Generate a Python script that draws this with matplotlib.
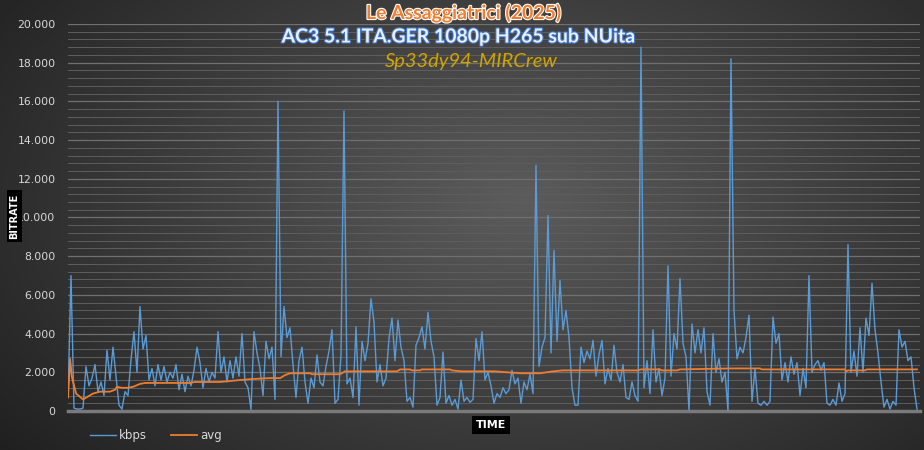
import numpy as np
import matplotlib
matplotlib.use("Agg")
import matplotlib.pyplot as plt
import matplotlib.patheffects as pe
from matplotlib.ticker import MultipleLocator, FuncFormatter

# bitrate samples (kbps) left to right
kbps = [700, 7000, 150, 100, 100, 150, 2300, 1300, 1700, 2400,
        1000, 1500, 800, 3150, 1600, 3300, 1800, 300, 100, 1000,
        800, 2650, 4100, 2000, 5400, 3200, 3900, 1600, 2200, 1300,
        2400, 1600, 2300, 1500, 2000, 1700, 2400, 1100, 1900, 1000,
        1800, 1300, 2100, 3300, 2500, 1200, 2200, 1500, 2000, 1700,
        4100, 2000, 2800, 1500, 2600, 1700, 2800, 1800, 4000, 1500,
        1200, 80, 4100, 3000, 2200, 800, 3600, 2700, 3300, 600,
        16000, 2800, 5400, 3800, 4300, 2400, 700, 2600, 3300, 1500,
        400, 1700, 1200, 2900, 1500, 1300, 2300, 3100, 4200, 400,
        600, 2900, 15500, 1400, 1700, 700, 4350, 300, 3600, 2600,
        3500, 5800, 4600, 1500, 2400, 1300, 1700, 3750, 4800, 2600,
        4700, 3300, 2600, 500, 700, 200, 3400, 3800, 4350, 3200,
        5100, 3600, 2800, 300, 700, 3050, 400, 800, 300, 600,
        100, 1600, 500, 700, 450, 600, 3750, 2600, 4100, 1600,
        2000, 1300, 400, 900, 700, 1200, 900, 1100, 2100, 1400,
        1700, 400, 1500, 1100, 1900, 900, 12700, 2300, 3300, 3800,
        10100, 3000, 8300, 3600, 6750, 4200, 5200, 3800, 1200, 300,
        300, 3300, 2500, 3100, 2700, 3650, 1800, 2900, 3650, 1400,
        2200, 1600, 3400, 2000, 1500, 2400, 700, 600, 1500, 800,
        500, 18800, 1200, 2600, 900, 4200, 1500, 2200, 800, 1700,
        7500, 1800, 4000, 3200, 6850, 3500, 2800, 50, 4500, 3000,
        4200, 3000, 4300, 1000, 300, 4000, 2000, 2700, 1500, 2000,
        0, 18200, 5200, 2700, 3300, 3000, 3800, 4950, 500, 2200,
        400, 300, 500, 300, 500, 4850, 3500, 4000, 1600, 2500,
        1500, 2800, 1900, 2500, 800, 2200, 1200, 7000, 2000, 2400,
        2600, 2100, 2500, 400, 300, 600, 300, 1450, 500, 900,
        8600, 2000, 3100, 1800, 4300, 2000, 4800, 3900, 6600, 4200,
        3000, 1500, 200, 600, 100, 500, 300, 4200, 3300, 3600,
        2600, 2800, 1200, 100]

# running average, sample position / value pairs
avg_t = [0, 0.7, 1.3, 2.7, 5, 6.7, 8.3, 10.7, 14, 15.7, 16.3, 18, 20, 21.7,
         24, 25.7, 40.7, 42.3, 50.7, 57.3, 61.3, 67.3, 70.7, 72.3, 74, 80.7,
         81.3, 90.7, 92.3, 109.7, 110.7, 114, 114.7, 117.3, 118, 127.3, 128,
         131.3, 142.3, 150.7, 157.3, 161.7, 165, 190, 191, 197.3, 198, 203,
         204, 221, 230.7, 231.3, 259, 259.3, 260, 265.7, 266.3, 283]
avg_v = [700, 2700, 1750, 900, 600, 750, 900, 1000, 1000, 1100, 1250, 1200,
         1200, 1250, 1400, 1450, 1450, 1500, 1500, 1600, 1650, 1700, 1700,
         1850, 1950, 1950, 1900, 1900, 2050, 2050, 2150, 2150, 2100, 2100,
         2150, 2150, 2100, 2050, 2050, 1950, 1950, 2050, 2100, 2100, 2150,
         2150, 2100, 2100, 2150, 2200, 2200, 2150, 2150, 2050, 2100, 2100,
         2150, 2150]

title1 = "Le Assaggiatrici (2025)"
title2 = "AC3 5.1 ITA.GER 1080p H265 sub NUita"
title3 = "Sp33dy94-MIRCrew"

W, H = 924, 450
fig = plt.figure(figsize=(W / 100, H / 100), dpi=100)

# dark radial background
bg = fig.add_axes([0, 0, 1, 1], zorder=-5)
yy, xx = np.mgrid[0:H, 0:W]
r = np.sqrt(((xx - 520) / 620.0) ** 2 + ((yy - 200) / 380.0) ** 2)
shade = np.clip(0.36 - 0.22 * r, 0.1, 0.36)
bg.imshow(np.dstack([shade] * 3), aspect="auto", extent=[0, 1, 0, 1])
bg.axis("off")

ax = fig.add_axes([68 / W, 1 - 411 / H, 852 / W, 387 / H])
ax.set_facecolor("none")
x = np.arange(len(kbps))
ax.plot(x, kbps, color="#5b9bd5", lw=1.0, label="kbps", zorder=3)
ax.plot(avg_t, avg_v, color="#ed7d31", lw=1.3, label="avg", zorder=4)

ax.set_xlim(0, len(kbps))
ax.set_ylim(0, 20000)
ax.yaxis.set_major_locator(MultipleLocator(2000))
ax.yaxis.set_minor_locator(MultipleLocator(400))
ax.yaxis.set_major_formatter(FuncFormatter(lambda v, p: f"{int(v):,}".replace(",", ".")))
ax.grid(which="major", axis="y", color="#707070", lw=0.9)
ax.grid(which="minor", axis="y", color="#5e5e5e", lw=0.7)
ax.set_axisbelow(True)
ax.set_xticks([])
ax.tick_params(axis="y", which="both", length=0, colors="#d9d9d9", labelsize=7.8, pad=9)
for s in ["top", "right", "left"]:
    ax.spines[s].set_visible(False)
ax.spines["bottom"].set_color("#7a7a7a")
ax.spines["bottom"].set_linewidth(2.5)

# axis titles in black boxes
fig.text(14.5 / W, 1 - 216 / H, "BITRATE", rotation=90, ha="center", va="center",
         color="white", fontsize=7, fontweight="bold",
         bbox=dict(boxstyle="square,pad=0.3", fc="black", ec="none"))
fig.text(491 / W, 1 - 425 / H, "TIME", ha="center", va="center",
         color="white", fontsize=8, fontweight="bold",
         bbox=dict(boxstyle="square,pad=0.35", fc="black", ec="none"))

# titles
fig.text(0.502, 1 - 13 / H, title1, ha="center", va="center", color="#f47c2c",
         fontsize=14, fontweight="bold", family="Lato",
         path_effects=[pe.withStroke(linewidth=1.6, foreground="white")])
fig.text(0.497, 1 - 37 / H, title2, ha="center", va="center", color="#e6f0fb",
         fontsize=14, fontweight="bold", family="Lato",
         path_effects=[pe.withStroke(linewidth=1.6, foreground="#3f73c8")])
fig.text(0.510, 1 - 61 / H, title3, ha="center", va="center", color="#d1a400",
         fontsize=14.5, style="italic", family="Lato")

leg = ax.legend(loc="upper left", bbox_to_anchor=(0.02, -0.035), ncol=2, frameon=False,
                fontsize=8.5, handlelength=2.2, handletextpad=0.3, columnspacing=2.0,
                borderaxespad=0)
for t in leg.get_texts():
    t.set_color("#d9d9d9")

fig.savefig("out.png", dpi=100)
